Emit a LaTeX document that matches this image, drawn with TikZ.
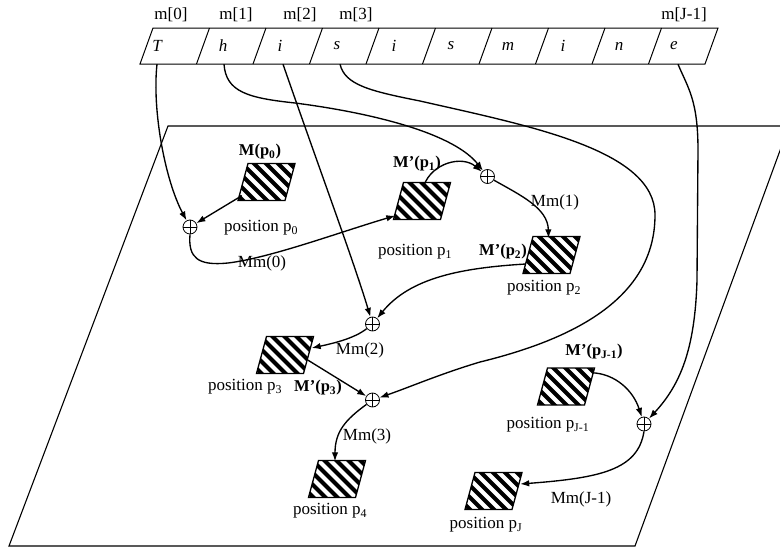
\documentclass[tikz,border=0pt]{standalone}
\usepackage{fontspec}
\setmainfont{Liberation Serif}
\usetikzlibrary{arrows.meta,calc}

\begin{document}
\begin{tikzpicture}[x=1pt,y=-1pt,
  every node/.style={inner sep=0pt},
  plane/.style={line width=1.1pt},
  tape/.style={line width=1pt},
  cell/.style={minimum width=36pt, minimum height=36pt, font=\fontsize{17}{19}\selectfont\itshape},
  idx/.style={font=\fontsize{17}{19}\selectfont},
  lbl/.style={font=\fontsize{17}{19}\selectfont},
  blbl/.style={font=\fontsize{16.5}{19}\selectfont\bfseries},
  conn/.style={line width=1.35pt, -{Latex[length=9pt,width=6.5pt]}},
  xorsum/.style={circle, draw, line width=0.8pt, minimum size=14pt,
    path picture={\draw[line width=0.8pt]
      (path picture bounding box.north) -- (path picture bounding box.south)
      (path picture bounding box.west) -- (path picture bounding box.east);}},
  hatchbox/.style={minimum width=59pt, minimum height=39pt,
    path picture={
      \begin{scope}
        \clip ($(path picture bounding box.north west)+(11,1)$)
           -- ($(path picture bounding box.north east)+(-1,1)$)
           -- ($(path picture bounding box.south east)+(-11,-1)$)
           -- ($(path picture bounding box.south west)+(1,-1)$) -- cycle;
        \foreach \k in {-4,...,5}
          \draw[line width=4.2pt] ($(path picture bounding box.north west)+(\k*12+2,-2)$) -- ++(48,48);
      \end{scope}
      \draw[line width=1.3pt]
           ($(path picture bounding box.north west)+(11,1)$)
        -- ($(path picture bounding box.north east)+(-1,1)$)
        -- ($(path picture bounding box.south east)+(-11,-1)$)
        -- ($(path picture bounding box.south west)+(1,-1)$) -- cycle;
    }}
]
\useasboundingbox (0,0) rectangle (780,549);

% the plane holding the positions
\draw[plane] (168,126) -- (789,126) -- (635,546) -- (9,546) -- cycle;

% the message tape
\draw[tape] (153,28) -- (718,28) -- (705,64) -- (140,64) -- cycle;
\foreach \k in {1,...,9}
  \draw[tape] (153+56.5*\k,28) -- (140+56.5*\k,64);

\node[cell] (c0) at (157,46) {T};
\node[cell] (c1) at (223,46) {h};
\node[cell] (c2) at (280,46) {i};
\node[cell] (c3) at (337,46) {s};
\node[cell] (c4) at (394,46) {i};
\node[cell] (c5) at (451,46) {s};
\node[cell] (c6) at (508,46) {m};
\node[cell] (c7) at (563,46) {i};
\node[cell] (c8) at (619,46) {n};
\node[cell] (c9) at (674,46) {e};

\node[idx] (m0) at (171,15) {m[0]};
\node[idx] (m1) at (236,15) {m[1]};
\node[idx] (m2) at (300,15) {m[2]};
\node[idx] (m3) at (356,15) {m[3]};
\node[idx] (mJ) at (684,15) {m[J-1]};

% hatched positions
\node[hatchbox] (b0) at (266.5,182) {};
\node[hatchbox] (b1) at (422,201) {};
\node[hatchbox] (b2) at (551.5,255) {};
\node[hatchbox] (b3) at (285,355) {};
\node[hatchbox] (b4) at (337,479) {};
\node[hatchbox] (bJ1) at (566,386.5) {};
\node[hatchbox] (bJ) at (493.5,491) {};

% xor points
\node[xorsum] (s0) at (190,227) {};
\node[xorsum] (s1) at (487.5,176.5) {};
\node[xorsum] (s2) at (372.5,324) {};
\node[xorsum] (s3) at (372.5,400) {};
\node[xorsum] (sJ) at (644,424) {};

% labels
\node[blbl] (lb0) at (260,152) {M(p\textsubscript{0})};
\node[lbl] (lp0) at (261,228) {position p\textsubscript{0}};
\node[blbl] (lb1) at (417,164) {M’(p\textsubscript{1})};
\node[lbl] (lp1) at (415,252) {position p\textsubscript{1}};
\node[lbl] (mm0) at (262,263) {Mm(0)};
\node[lbl] (mm1) at (555,202) {Mm(1)};
\node[blbl] (lb2) at (503,252) {M’(p\textsubscript{2})};
\node[lbl] (lp2) at (544,288) {position p\textsubscript{2}};
\node[lbl] (mm2) at (360,350) {Mm(2)};
\node[lbl] (lp3) at (245,387) {position p\textsubscript{3}};
\node[blbl] (lb3) at (318,388) {M’(p\textsubscript{3})};
\node[lbl] (mm3) at (367,436) {Mm(3)};
\node[lbl] (lp4) at (330,511) {position p\textsubscript{4}};
\node[blbl] (lbJ1) at (594,352) {M’(p\textsubscript{J-1})};
\node[lbl] (lpJ1) at (548,425) {position p\textsubscript{J-1}};
\node[lbl] (lpJ) at (486,525) {position p\textsubscript{J}};
\node[lbl] (mmJ) at (581,499) {Mm(J-1)};

% connectors
\draw[conn] (c0.south) .. controls (152,110) and (165,180) .. (s0);
\draw[conn] ($(b0.south west)+(5,-6)$) -- (s0);
\draw[conn] (s0.south) .. controls (188,258) and (198,266) .. (228,263)
            .. controls (270,258) and (340,232) .. ($(b1.south west)+(3,-5)$);
\draw[conn] ([xshift=1pt]c1.south) .. controls (226,92) and (248,98) .. (295,103)
            .. controls (380,114) and (455,135) .. (s1);
\draw[conn] ($(b1.north)+(2,4)$) .. controls (432,163) and (462,155) .. (s1);
\draw[conn] (s1) .. controls (520,195) and (548,208) .. ($(b2.north)+(-3,3)$);
\draw[conn] ([xshift=3pt]c2.south) .. controls (318,165) and (355,265) .. (s2);
\draw[conn] ($(b2.west)+(4,9)$) .. controls (460,268) and (410,278) .. (s2);
\draw[conn] (s2) .. controls (355,338) and (335,343) .. ($(b3.east)+(-3,-7)$);
\draw[conn] ($(b3.east)+(-7,5)$) -- (s3);
\draw[conn] ([xshift=3pt]c3.south) .. controls (345,85) and (370,91) .. (420,101)
            .. controls (530,126) and (655,150) .. (655,215)
            .. controls (655,300) and (570,340) .. (480,362)
            .. controls (440,374) and (410,387) .. (s3);
\draw[conn] (s3) .. controls (345,420) and (335,432) .. ($(b4.north)+(-2,2)$);
\draw[conn] ([xshift=4pt]c9.south) .. controls (688,88) and (698,100) .. (698,150)
            -- (697,280) .. controls (695,350) and (680,385) .. (sJ);
\draw[conn] ($(bJ1.north east)+(-3,6)$) .. controls (615,374) and (633,390) .. (sJ);
\draw[conn] (sJ.south) .. controls (638,470) and (600,478) .. ($(bJ.east)+(-3,-7)$);
\end{tikzpicture}
\end{document}
